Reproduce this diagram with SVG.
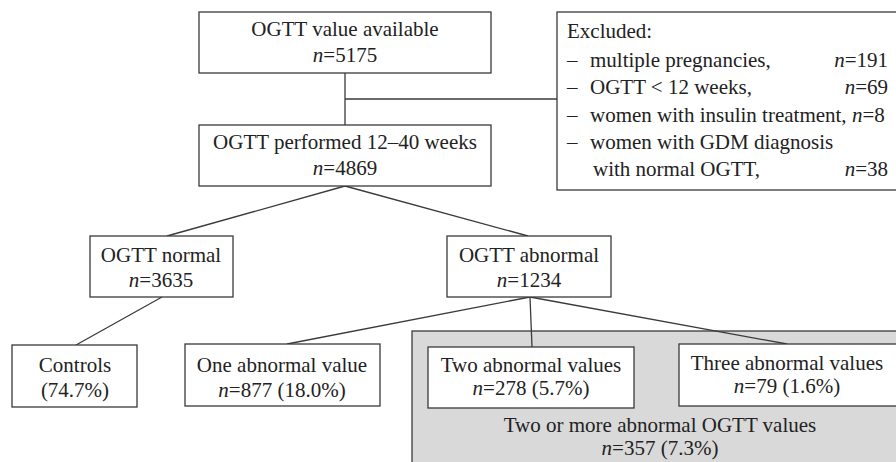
<svg xmlns="http://www.w3.org/2000/svg" width="896" height="462" viewBox="0 0 896 462">
<style>
.box{fill:#fff;stroke:#3a3a3a;stroke-width:1.3}
.gray{fill:#d9d9d9;stroke:#3a3a3a;stroke-width:1.3}
.ln{stroke:#3a3a3a;stroke-width:1.3;fill:none}
text{font-family:"Liberation Serif","Times New Roman",serif;font-size:21px;fill:#222}
.c{text-anchor:middle}
.e{text-anchor:end}
.i{font-style:italic}
</style>
<rect width="896" height="462" fill="#fff"/>
<g id="group-two-or-more">
<rect class="gray" x="412" y="331" width="490" height="140"/>
<text class="c" x="660" y="432">Two or more abnormal OGTT values</text>
<text class="c" x="660" y="455"><tspan class="i">n</tspan>=357 (7.3%)</text>
</g>
<g id="connectors">
<path class="ln" d="M345,73 V125 M345,99 H557"/>
<path class="ln" d="M345,186 L167,236 M345,186 L528,236"/>
<path class="ln" d="M162,297 L76,345"/>
<path class="ln" d="M530,297 L287,344 M530,297 L532,347 M530,297 L787,344"/>
</g>
<g id="node-available">
<rect class="box" x="199" y="12" width="292" height="61"/>
<text class="c" x="345" y="36">OGTT value available</text>
<text class="c" x="345" y="62"><tspan class="i">n</tspan>=5175</text>
</g>
<g id="node-excluded">
<rect class="box" x="557" y="12" width="345" height="178"/>
<text x="567" y="38">Excluded:</text>
<text x="567" y="67">–</text><text x="590" y="67">multiple pregnancies,</text><text class="e" x="888" y="67"><tspan class="i">n</tspan>=191</text>
<text x="567" y="94">–</text><text x="590" y="94">OGTT &lt; 12 weeks,</text><text class="e" x="888" y="94"><tspan class="i">n</tspan>=69</text>
<text x="567" y="122">–</text><text x="590" y="122">women with insulin treatment, <tspan class="i">n</tspan>=8</text>
<text x="567" y="149">–</text><text x="590" y="149">women with GDM diagnosis</text>
<text x="593" y="176">with normal OGTT,</text><text class="e" x="888" y="176"><tspan class="i">n</tspan>=38</text>
</g>
<g id="node-performed">
<rect class="box" x="199" y="125" width="292" height="61"/>
<text class="c" x="345" y="149">OGTT performed 12–40 weeks</text>
<text class="c" x="345" y="175"><tspan class="i">n</tspan>=4869</text>
</g>
<g id="node-normal">
<rect class="box" x="90" y="236" width="143" height="61"/>
<text class="c" x="161" y="262">OGTT normal</text>
<text class="c" x="161" y="287"><tspan class="i">n</tspan>=3635</text>
</g>
<g id="node-abnormal">
<rect class="box" x="447" y="236" width="164" height="61"/>
<text class="c" x="529" y="262">OGTT abnormal</text>
<text class="c" x="529" y="287"><tspan class="i">n</tspan>=1234</text>
</g>
<g id="node-controls">
<rect class="box" x="12" y="345" width="125" height="62"/>
<text class="c" x="75" y="372">Controls</text>
<text class="c" x="75" y="397">(74.7%)</text>
</g>
<g id="node-one">
<rect class="box" x="185" y="344" width="195" height="62"/>
<text class="c" x="282" y="372">One abnormal value</text>
<text class="c" x="282" y="397"><tspan class="i">n</tspan>=877 (18.0%)</text>
</g>
<g id="node-two">
<rect class="box" x="428" y="347" width="206" height="61"/>
<text class="c" x="531" y="372">Two abnormal values</text>
<text class="c" x="531" y="395"><tspan class="i">n</tspan>=278 (5.7%)</text>
</g>
<g id="node-three">
<rect class="box" x="679" y="344" width="223" height="62"/>
<text class="c" x="787" y="370">Three abnormal values</text>
<text class="c" x="787" y="393"><tspan class="i">n</tspan>=79 (1.6%)</text>
</g>
</svg>
